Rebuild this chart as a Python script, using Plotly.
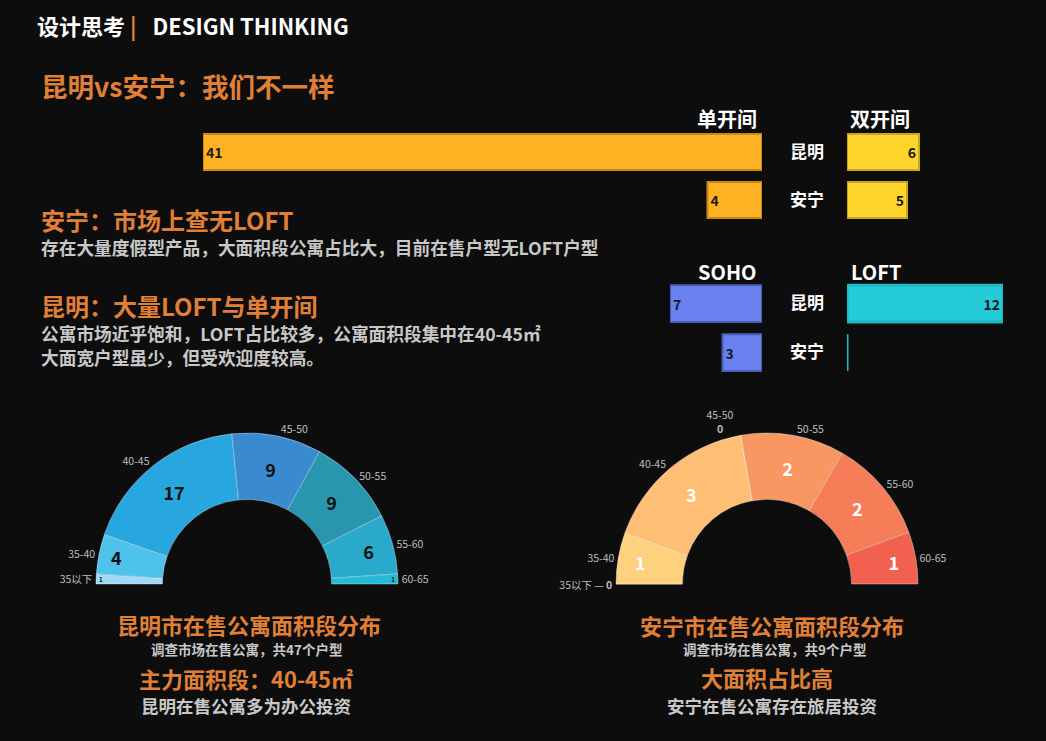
import plotly.graph_objects as go

W, H = 1046, 741
BG = "#0d0d0d"
FONT = "Noto Sans CJK SC"
ORANGE = "#e08038"
GREY = "#c8c8c8"

# ---- data ----
cities = ["安宁", "昆明"]
single_room = [4, 41]
double_room = [5, 6]
soho = [3, 7]
loft = [0, 12]

area_bins = ["35以下", "35-40", "40-45", "45-50", "50-55", "55-60", "60-65"]
km_counts = [1, 4, 17, 9, 9, 6, 1]
an_counts = [0, 1, 3, 0, 2, 2, 1]

km_colors = ["#9fd9f5", "#4dc3ec", "#28a6df", "#3a8ad0", "#2896af", "#2aaacb", "#22bcd8"]
an_colors = ["#4d8f93", "#fdd17d", "#febe73", "#4d8f93", "#f99763", "#f57e59", "#f2614f"]


def px_x(p):
    return p / W


def px_y(p):
    return 1 - p / H


fig = go.Figure()


def add_bar(values, color, line_color, line_width, axis):
    fig.add_trace(
        go.Bar(
            x=values,
            y=cities,
            orientation="h",
            marker=dict(color=color, line=dict(color=line_color, width=line_width)),
            text=values,
            textposition="auto",
            insidetextanchor="end",
            insidetextfont=dict(color="#1a1a1a", size=14, family=FONT, weight="bold"),
            outsidetextfont=dict(color="#141414", size=14, family=FONT, weight="bold"),
            cliponaxis=False,
            xaxis="x" + axis,
            yaxis="y" + axis,
            hoverinfo="x+y",
            showlegend=False,
        )
    )


add_bar(single_room, "#ffb224", "#c98a16", 2, "")
add_bar(double_room, "#ffd52b", "#c9a61c", 2, "2")
add_bar(soho, "#6a82f0", "#4a5fb8", 2, "3")
add_bar(loft, "#24ccd8", "#1fb8c4", 3, "4")

# where a bin is empty the value goes with its label outside the ring
zero_fmt = {"35以下": "%{label} — <b>%{value}</b>"}


def add_half_donut(counts, colors, x0, x1, value_color):
    total = sum(counts)
    labels = area_bins + [""]
    values = counts + [total]
    dom = dict(x=[px_x(x0), px_x(x1)], y=[px_y(735), px_y(433)])
    common = dict(
        labels=labels,
        values=values,
        domain=dom,
        hole=0.56,
        sort=False,
        direction="clockwise",
        rotation=270,
        showlegend=False,
    )
    fig.add_trace(
        go.Pie(
            **common,
            marker=dict(colors=colors + ["rgba(0,0,0,0)"],
                        line=dict(color="rgba(255,255,255,0.35)", width=[1] * len(counts) + [0])),
            texttemplate=["%{value}" if c > 0 else "" for c in counts] + [""],
            textposition="inside",
            insidetextorientation="horizontal",
            textfont=dict(color=value_color, size=18, family=FONT, weight="bold"),
            hoverinfo="label+value",
        )
    )
    label_tpl = []
    for b, c in zip(area_bins, counts):
        if c > 0:
            label_tpl.append("%{label}")
        else:
            label_tpl.append(zero_fmt.get(b, "%{label}<br><b>%{value}</b>"))
    fig.add_trace(
        go.Pie(
            **common,
            marker=dict(colors=["rgba(0,0,0,0)"] * len(values)),
            texttemplate=label_tpl + [""],
            textposition="outside",
            textfont=dict(color="#bdbdbd", size=10.5, family=FONT),
            hoverinfo="skip",
        )
    )


add_half_donut(km_counts, km_colors, 96, 398, "#111111")
add_half_donut(an_counts, an_colors, 616, 918, "#ffffff")

top_y = [px_y(224), px_y(128)]
bot_y = [px_y(377), px_y(279)]
hidden = dict(visible=False, fixedrange=True)
ycat = dict(type="category", categoryorder="array", categoryarray=cities, fixedrange=True,
            showgrid=False, zeroline=False, showline=False, ticks="")
city_ticks = dict(showticklabels=True, ticklabelstandoff=22,
                  tickfont=dict(color="#ffffff", size=17, family=FONT, weight="bold"))

fig.update_layout(
    width=W,
    height=H,
    margin=dict(l=0, r=0, t=0, b=0),
    paper_bgcolor=BG,
    plot_bgcolor=BG,
    font=dict(family=FONT, color="#ffffff"),
    bargap=0.25,
    xaxis=dict(domain=[px_x(203), px_x(762)], range=[41, 0], anchor="y", **hidden),
    yaxis=dict(domain=top_y, anchor="x", showticklabels=False, **ycat),
    xaxis2=dict(domain=[px_x(847), px_x(1003)], range=[0, 13], anchor="y2", **hidden),
    yaxis2=dict(domain=top_y, anchor="x2", **city_ticks, **ycat),
    xaxis3=dict(domain=[px_x(670), px_x(762)], range=[7, 0], anchor="y3", **hidden),
    yaxis3=dict(domain=bot_y, anchor="x3", showticklabels=False, **ycat),
    xaxis4=dict(domain=[px_x(847), px_x(1003)], range=[0, 12], anchor="y4", **hidden),
    yaxis4=dict(domain=bot_y, anchor="x4", **city_ticks, **ycat),
)


def note(text, x, y, size, color, bold=True, xanchor="left"):
    fig.add_annotation(
        text=text,
        x=px_x(x),
        y=px_y(y),
        xref="paper",
        yref="paper",
        xanchor=xanchor,
        yanchor="middle",
        showarrow=False,
        font=dict(size=size, color=color, family=FONT, weight="bold" if bold else "normal"),
    )


note("设计思考 <span style='color:#e08038'>|</span>\u2002 DESIGN THINKING", 35, 25, 22, "#ffffff")
note("昆明vs安宁：我们不一样", 39, 86, 26.5, ORANGE)
note("安宁：市场上查无LOFT", 39, 219, 24, ORANGE)
note("存在大量度假型产品，大面积段公寓占比大，目前在售户型无LOFT户型", 39, 247, 17.7, GREY)
note("昆明：大量LOFT与单开间", 39, 305, 24, ORANGE)
note("公寓市场近乎饱和，LOFT占比较多，公寓面积段集中在40-45㎡", 39, 333, 17.7, GREY)
note("大面宽户型虽少，但受欢迎度较高。", 39, 357, 17.7, GREY)

note("单开间", 727, 119, 20, "#ffffff", xanchor="center")
note("双开间", 880, 119, 20, "#ffffff", xanchor="center")
note("SOHO", 727, 271, 20, "#ffffff", xanchor="center")
note("LOFT", 876, 271, 20, "#ffffff", xanchor="center")

note("昆明市在售公寓面积段分布", 249, 624, 22, ORANGE, xanchor="center")
note("调查市场在售公寓，共47个户型", 246, 649, 13.5, GREY, xanchor="center")
note("主力面积段：40-45㎡", 246, 678, 22, ORANGE, xanchor="center")
note("昆明在售公寓多为办公投资", 246, 705, 17.5, GREY, xanchor="center")

note("安宁市在售公寓面积段分布", 772, 625, 22, ORANGE, xanchor="center")
note("调查市场在售公寓，共9个户型", 774, 649, 13.5, GREY, xanchor="center")
note("大面积占比高", 767, 677, 22, ORANGE, xanchor="center")
note("安宁在售公寓存在旅居投资", 772, 705, 17.5, GREY, xanchor="center")

fig.write_html(
    "out.html",
    config={"displayModeBar": False},
    post_script="document.body.style.margin='0';document.body.style.background='#0d0d0d';",
)
